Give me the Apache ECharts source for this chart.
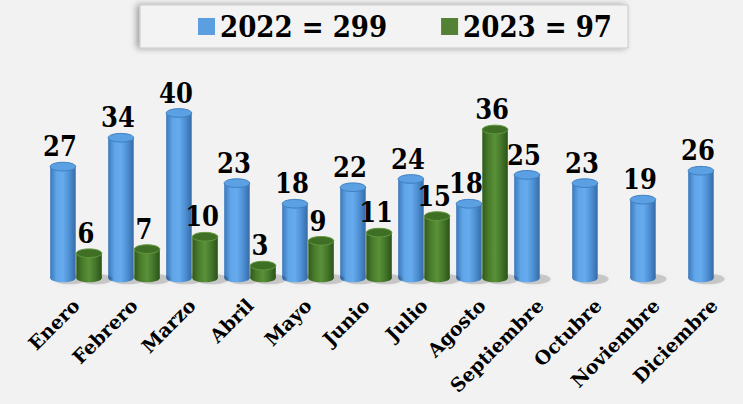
<!DOCTYPE html>
<html lang="es">
<head>
    <meta charset="UTF-8">
    <title>Ventas por mes</title>
    <script src="https://cdn.jsdelivr.net/npm/echarts@6/dist/echarts.min.js"></script>
    <style>
        html, body { margin: 0; padding: 0; background: #f2f2f2; }
    </style>
</head>
<body>
    <div id="app" style="width: 743px;height: 404px;"></div>

    <script>
        // datos
        const meses = ['Enero', 'Febrero', 'Marzo', 'Abril', 'Mayo', 'Junio', 'Julio', 'Agosto', 'Septiembre', 'Octubre', 'Noviembre', 'Diciembre'];
        const serie2022 = [27, 34, 40, 23, 18, 22, 24, 18, 25, 23, 19, 26];
        const serie2023 = [6, 7, 10, 3, 9, 11, 15, 36];
        const nombres = ['2022', '2023'];

        const fuente = "'DejaVu Serif Condensed', 'DejaVu Serif', serif";

        const total = arr => arr.reduce((a, b) => a + b, 0);
        const totales = { '2022': total(serie2022), '2023': total(serie2023) };

        const colores = {
            '2022': {
                legend: '#5b9fe0',
                body: ['#3b78bb', '#5fa5e8', '#66abed', '#4d8fd2', '#356ba6'],
                top: '#5aa0e2',
                topStroke: '#3f7fc2'
            },
            '2023': {
                legend: '#548235',
                body: ['#2f5a1a', '#4a7d2c', '#5a9138', '#44752a', '#2b5318'],
                top: '#3f6f25',
                topStroke: '#62993d'
            }
        };

        // cilindro 3d dibujado con custom series
        function cilindro(nombre, lado) {
            const c = colores[nombre];
            return function (params, api) {
                const idx = api.value(0);
                const val = api.value(1);
                const tope = api.coord([idx, val]);
                const base = api.coord([idx, 0]);
                const banda = api.size([1, 0])[0];
                const w = banda * 0.44;
                const cx = tope[0] + lado * banda * 0.225;
                const ry = w * 0.17;
                const grad = {
                    type: 'linear', x: 0, y: 0, x2: 1, y2: 0,
                    colorStops: c.body.map((col, i) => ({ offset: i / (c.body.length - 1), color: col }))
                };
                return {
                    type: 'group',
                    children: [
                        {
                            type: 'ellipse',
                            shape: { cx: cx + 7, cy: base[1] + 1, rx: w / 2 + 4, ry: ry + 1 },
                            style: { fill: 'rgba(0,0,0,0.16)', shadowBlur: 6, shadowColor: 'rgba(0,0,0,0.2)' }
                        },
                        {
                            type: 'rect',
                            shape: { x: cx - w / 2, y: tope[1], width: w, height: base[1] - tope[1] },
                            style: { fill: grad }
                        },
                        {
                            type: 'ellipse',
                            shape: { cx: cx, cy: base[1], rx: w / 2, ry: ry },
                            style: { fill: grad }
                        },
                        {
                            type: 'ellipse',
                            shape: { cx: cx, cy: tope[1], rx: w / 2, ry: ry },
                            style: { fill: c.top, stroke: c.topStroke, lineWidth: 1 }
                        },
                        {
                            type: 'text',
                            style: {
                                text: String(val),
                                x: cx - 3,
                                y: tope[1] - ry - 2,
                                align: 'center',
                                verticalAlign: 'bottom',
                                fill: '#000',
                                font: 'bold 27px ' + fuente
                            }
                        }
                    ]
                };
            };
        }

        var myChart = echarts.init(document.getElementById('app'), null, { renderer: 'svg' });

        var option = {
            backgroundColor: '#f2f2f2',
            animation: false,
            legend: {
                left: 140,
                top: 5,
                padding: [7, 16, 7, 58],
                backgroundColor: '#f3f3f3',
                borderColor: '#c9c9c9',
                borderWidth: 1,
                shadowColor: 'rgba(0,0,0,0.35)',
                shadowBlur: 6,
                shadowOffsetX: -3,
                itemWidth: 17,
                itemHeight: 17,
                itemGap: 54,
                icon: 'rect',
                data: nombres,
                formatter(name) {
                    return name + ' = ' + totales[name];
                },
                textStyle: {
                    color: '#000',
                    fontSize: 29,
                    fontWeight: 'bold',
                    fontFamily: fuente
                }
            },
            grid: {
                left: 47,
                top: 113,
                width: 722,
                height: 165
            },
            xAxis: {
                type: 'category',
                data: meses,
                axisTick: { show: false },
                axisLine: {
                    show: true,
                    lineStyle: {
                        color: '#d4d4d4',
                        width: 3,
                        shadowColor: 'rgba(0,0,0,0.25)',
                        shadowBlur: 3,
                        shadowOffsetY: 3
                    }
                },
                axisLabel: {
                    rotate: 45,
                    margin: 24,
                    interval: 0,
                    color: '#000',
                    fontSize: 19,
                    fontWeight: 'bold',
                    fontFamily: "'DejaVu Serif', serif"
                }
            },
            yAxis: {
                type: 'value',
                min: 0,
                max: 40,
                show: false,
                splitLine: { show: false }
            },
            series: [
                {
                    name: '2022',
                    type: 'custom',
                    clip: false,
                    itemStyle: { color: colores['2022'].legend },
                    renderItem: cilindro('2022', -1),
                    data: serie2022.map((v, i) => [i, v])
                },
                {
                    name: '2023',
                    type: 'custom',
                    clip: false,
                    itemStyle: { color: colores['2023'].legend },
                    renderItem: cilindro('2023', 1),
                    data: serie2023.map((v, i) => [i, v])
                }
            ]
        };

        myChart.setOption(option);
    </script>
</body>
</html>
